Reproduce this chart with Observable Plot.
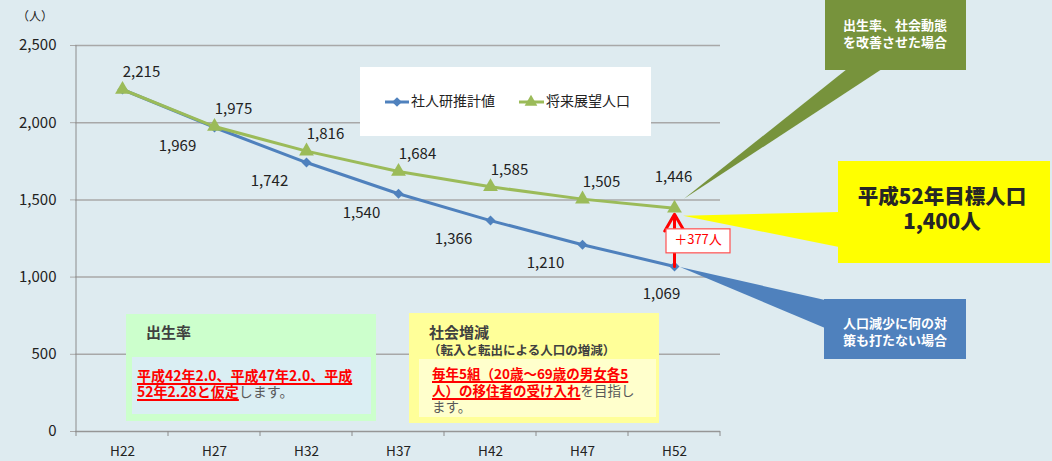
<!DOCTYPE html>
<html><head><meta charset="utf-8">
<script src="https://cdn.jsdelivr.net/npm/d3@7"></script>
<script src="https://cdn.jsdelivr.net/npm/@observablehq/plot@0.6"></script>
<style>
html,body{margin:0;padding:0;background:#DEEBF0;}
#wrap{position:relative;width:1052px;height:461px;background:#DEEBF0;font-family:"Noto Sans CJK JP","Noto Sans",sans-serif;overflow:hidden}
#wrap svg{position:absolute;left:0;top:0}
.abs{position:absolute;box-sizing:border-box;white-space:nowrap}
.red{color:#FF0000;font-weight:bold;text-decoration:underline;text-decoration-thickness:1.5px;text-underline-offset:2px}
.gray{color:#595959}
</style></head>
<body><div id="wrap"></div>
<script>
// ---- data ----
const years = ["H22","H27","H32","H37","H42","H47","H52"];
const ipss = [2215,1969,1742,1540,1366,1210,1069];      // 社人研推計値
const vision = [2215,1975,1816,1684,1585,1505,1446];    // 将来展望人口
const seriesNames = ["社人研推計値","将来展望人口"];
const yTicks = [0,500,1000,1500,2000,2500];
const gapLabel = "＋377人";
const unitLabel = "（人）";
const calloutGreen = ["出生率、社会動態","を改善させた場合"];
const calloutBlue = ["人口減少に何の対","策も打たない場合"];
const calloutYellow = ["平成52年目標人口","1,400人"];

const blue = "#4F81BD", green = "#9BBB59";
const FONT = '"Noto Sans CJK JP","Noto Sans",sans-serif';
const lastIdx = years.length - 1;
const rowsB = years.map((x,i)=>({x, y: ipss[i], i}));
const rowsG = years.map((x,i)=>({x, y: vision[i], i}));
const fmt = d3.format(",");

const plot = Plot.plot({
  width: 1052, height: 461,
  marginLeft: 75, marginRight: 332, marginTop: 45, marginBottom: 30,
  style: {background: "transparent", fontFamily: FONT, fontSize: "14px", color: "#222", overflow: "visible"},
  x: {type: "point", domain: years, padding: 0.5, label: null},
  y: {domain: [0, 2500], label: null},
  marks: [
    Plot.ruleY(yTicks.filter(d => d > 0), {stroke: "#A8A8A8", strokeWidth: 1.5}),
    Plot.ruleY([0], {stroke: "#969696", strokeWidth: 1.5}),
    Plot.axisY({ticks: yTicks, tickFormat: fmt, tickSize: 5, tickPadding: 14, stroke: "#A8A8A8", fill: "#222", fontSize: 15, label: null}),
    Plot.axisX({tickSize: 0, tickPadding: 15, fontSize: 13.5, fill: "#222", label: null}),
    Plot.line(rowsB, {x: "x", y: "y", stroke: blue, strokeWidth: 3}),
    Plot.dot(rowsB, {x: "x", y: "y", symbol: "diamond2", r: 4.5, fill: blue}),
    Plot.line(rowsG, {x: "x", y: "y", stroke: green, strokeWidth: 3}),
    Plot.dot(rowsG, {x: "x", y: "y", symbol: "triangle", r: 5.5, fill: green}),
    Plot.arrow([{x: years[lastIdx], y1: ipss[lastIdx], y2: vision[lastIdx]}],
      {x: "x", y1: "y1", y2: "y2", stroke: "#FF0000", strokeWidth: 3, headLength: 12, insetEnd: 6, insetStart: 0}),
    Plot.text(rowsG.filter(d => d.i < lastIdx), {x: "x", y: "y", text: d => fmt(d.y), dx: 19, dy: -17, fill: "#222", fontSize: 15}),
    Plot.text(rowsG.filter(d => d.i === lastIdx), {x: "x", y: "y", text: d => fmt(d.y), dx: -1, dy: -31, fill: "#222", fontSize: 15}),
    Plot.text(rowsB.filter(d => d.i > 0 && d.i < lastIdx), {x: "x", y: "y", text: d => fmt(d.y), dx: -37, dy: 19, fill: "#222", fontSize: 15}),
    Plot.text(rowsB.filter(d => d.i === lastIdx), {x: "x", y: "y", text: d => fmt(d.y), dx: -13, dy: 28, fill: "#222", fontSize: 15})
  ]
});

const wrap = document.getElementById("wrap");
wrap.appendChild(plot);

const xs = plot.scale("x"), ys = plot.scale("y");
const X = v => xs.apply(v), Y = v => ys.apply(v);
const step = X(years[1]) - X(years[0]);
const left = X(years[0]) - step/2;
const svg = d3.select(plot);

// axis lines and category boundary ticks
const ax = svg.append("g");
ax.append("line").attr("x1", left).attr("x2", left).attr("y1", Y(2500)).attr("y2", Y(0))
  .attr("stroke", "#8C8C8C").attr("stroke-width", 1);
d3.range(years.length + 1).forEach(k => {
  const xx = left + k*step;
  ax.append("line").attr("x1", xx).attr("x2", xx).attr("y1", Y(0)).attr("y2", Y(0) + 5)
    .attr("stroke", "#8C8C8C").attr("stroke-width", 1);
});

// unit label
svg.append("text").attr("x", 35).attr("y", 18).attr("text-anchor", "middle").attr("dominant-baseline", "middle")
  .attr("font-size", 12).attr("fill", "#222").text(unitLabel);

// legend
const lg = svg.append("g").attr("text-anchor", "start");
lg.append("rect").attr("x", 360).attr("y", 67).attr("width", 291).attr("height", 69).attr("fill", "#fff");
lg.append("line").attr("x1", 385).attr("x2", 409).attr("y1", 102).attr("y2", 102).attr("stroke", blue).attr("stroke-width", 3);
lg.append("path").attr("d", d3.symbol(d3.symbolDiamond2, 60)()).attr("transform", "translate(397,102)").attr("fill", blue);
lg.append("text").attr("x", 411).attr("y", 102).attr("dominant-baseline", "middle").attr("font-size", 14).attr("fill", "#222").text(seriesNames[0]);
lg.append("line").attr("x1", 519).attr("x2", 544).attr("y1", 102).attr("y2", 102).attr("stroke", green).attr("stroke-width", 3);
lg.append("path").attr("d", d3.symbol(d3.symbolTriangle, 70)()).attr("transform", "translate(531,102)").attr("fill", green);
lg.append("text").attr("x", 546).attr("y", 102).attr("dominant-baseline", "middle").attr("font-size", 14).attr("fill", "#222").text(seriesNames[1]);

// callouts
const xe = X(years[lastIdx]), yg = Y(vision[lastIdx]), yb = Y(ipss[lastIdx]);
const co = svg.append("g");
// green
co.append("polygon").attr("points", `${xe+10},${yg-9} 847,69 882,69`).attr("fill", "#77933C");
co.append("rect").attr("x", 825).attr("y", 0).attr("width", 141).attr("height", 70).attr("fill", "#77933C");
calloutGreen.forEach((t, k) => co.append("text").attr("x", 895).attr("y", 26 + k*17).attr("text-anchor", "middle")
  .attr("dominant-baseline", "middle").attr("font-size", 13).attr("font-weight", "bold").attr("fill", "#fff").text(t));
// yellow
co.append("polygon").attr("points", `${xe+9},${yg+8} 839,212 839,247`).attr("fill", "#FFFF00");
co.append("rect").attr("x", 838).attr("y", 161).attr("width", 212).attr("height", 102).attr("fill", "#FFFF00");
calloutYellow.forEach((t, k) => co.append("text").attr("x", 942).attr("y", 198 + k*25).attr("text-anchor", "middle")
  .attr("dominant-baseline", "middle").attr("font-size", 20.5).attr("font-weight", 900).attr("fill", "#262626").text(t));
// blue
co.append("polygon").attr("points", `${xe+6},${yb+1} 825,300 825,328`).attr("fill", blue);
co.append("rect").attr("x", 824).attr("y", 299).attr("width", 142).attr("height", 60).attr("fill", blue);
calloutBlue.forEach((t, k) => co.append("text").attr("x", 895).attr("y", 324 + k*17).attr("text-anchor", "middle")
  .attr("dominant-baseline", "middle").attr("font-size", 13).attr("font-weight", "bold").attr("fill", "#fff").text(t));

// +377 label box
const midY = (yg + yb)/2;
const gb = svg.append("g");
gb.append("rect").attr("x", xe - 8).attr("y", midY - 8).attr("width", 64).attr("height", 24)
  .attr("fill", "#fff").attr("stroke", "#FF5050").attr("stroke-width", 1.2);
gb.append("text").attr("x", xe + 24).attr("y", midY + 4).attr("text-anchor", "middle").attr("dominant-baseline", "middle")
  .attr("font-size", 13).attr("fill", "#FF0000").text(gapLabel);

// bottom info boxes (HTML)
function div(style, html) {
  const d = document.createElement("div");
  d.className = "abs";
  Object.assign(d.style, style);
  d.innerHTML = html || "";
  wrap.appendChild(d);
  return d;
}
div({left: "126px", top: "314px", width: "250px", height: "107px", background: "#CCFFCC"});
div({left: "132px", top: "357px", width: "239px", height: "57px", background: "#DAEEF3"});
div({left: "146px", top: "322px", fontSize: "15px", lineHeight: "20px", fontWeight: "bold", color: "#404040"}, "出生率");
div({left: "137px", top: "367px", fontSize: "14px", lineHeight: "16px"},
  '<span class="red">平成42年2.0、平成47年2.0、平成</span><br><span class="red">52年2.28と仮定</span><span class="gray">します。</span>');

div({left: "409px", top: "313px", width: "250px", height: "110px", background: "#FFFF99"});
div({left: "419px", top: "359px", width: "237px", height: "58px", background: "#FFFFCC"});
div({left: "429px", top: "322px", fontSize: "15px", lineHeight: "20px", fontWeight: "bold", color: "#404040"}, "社会増減");
div({left: "428px", top: "342px", fontSize: "12.5px", lineHeight: "16px", fontWeight: "bold", color: "#404040"}, "（転入と転出による人口の増減）");
div({left: "432px", top: "365px", fontSize: "13.5px", lineHeight: "16.5px"},
  '<span class="red">毎年5組（20歳～69歳の男女各5</span><br><span class="red">人）の移住者の受け入れ</span><span class="gray">を目指し</span><br><span class="gray">ます。</span>');
</script>
</body></html>
